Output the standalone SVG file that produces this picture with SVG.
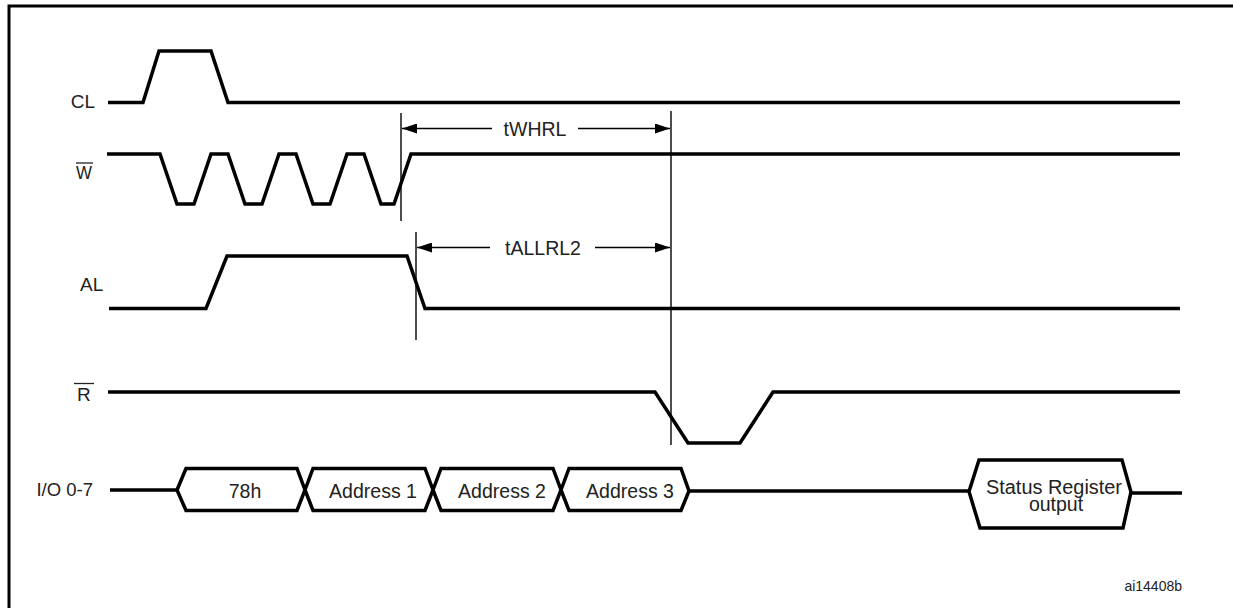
<svg xmlns="http://www.w3.org/2000/svg" width="1233" height="608" viewBox="0 0 1233 608">
<style>
.sig{fill:none;stroke:#000;stroke-width:3.5;stroke-linejoin:miter}
.thin{fill:none;stroke:#000;stroke-width:1.4}
.bus{fill:#fff;stroke:#000;stroke-width:3.5;stroke-linejoin:miter}
.lbl{font-family:"Liberation Sans",Arial,sans-serif;font-size:19px;fill:#222}
.txt{font-family:"Liberation Sans",Arial,sans-serif;font-size:19.5px;fill:#222;text-anchor:middle}
.small{font-family:"Liberation Sans",Arial,sans-serif;font-size:14px;fill:#222}
</style>
<defs>
<marker id="arr" markerWidth="15" markerHeight="10" refX="15" refY="5" orient="auto-start-reverse" markerUnits="userSpaceOnUse">
<path d="M0,0 L15,5 L0,10 Z" fill="#000"/>
</marker>
</defs>
<rect width="1233" height="608" fill="#fff"/>
<path d="M9,608 V6 H1233" fill="none" stroke="#000" stroke-width="3"/>

<g id="labels">
<text class="lbl" x="95" y="107.5" text-anchor="end">CL</text>
<text class="lbl" x="76" y="178.5" textLength="16" lengthAdjust="spacingAndGlyphs">W</text>
<line x1="76" y1="163" x2="93" y2="163" stroke="#222" stroke-width="1.3"/>
<text class="lbl" x="80" y="291">AL</text>
<text class="lbl" x="77" y="401">R</text>
<line x1="74" y1="383.5" x2="94" y2="383.5" stroke="#222" stroke-width="1.3"/>
<text class="lbl" x="93" y="496" text-anchor="end" style="font-size:18.5px">I/O 0-7</text>
</g>

<g id="CL">
<path class="sig" d="M108,102.5 H143 L159,51 H211 L228,102.5 H1180"/>
</g>
<g id="W">
<path class="sig" d="M107,154 H160 L177,204 H194 L211,154 H228 L245,204 H262 L279,154 H296 L313,204 H330 L347,154 H364 L381,204 H394 L411,154 H1180"/>
</g>
<g id="AL">
<path class="sig" d="M109,308.5 H206 L227,256 H407 L425,308.5 H1180"/>
</g>
<g id="R">
<path class="sig" d="M108,392 H655 L688,443 H740 L773,392 H1180"/>
</g>
<g id="IO">
<path class="sig" d="M110,490 H177"/>
<path class="sig" d="M689,491 H969"/>
<path class="sig" d="M1131,493 H1182"/>
</g>
<g id="bus78h">
<path class="bus" d="M177,490 L186,468.5 H297 L305,490 L297,510.5 H186 Z"/>
<text class="txt" x="245" y="497.5">78h</text>
</g>
<g id="busAddr1">
<path class="bus" d="M305,490 L313,468.5 H425 L433,490 L425,510.5 H313 Z"/>
<text class="txt" x="373" y="497.5">Address 1</text>
</g>
<g id="busAddr2">
<path class="bus" d="M433,490 L441,468.5 H553 L561,490 L553,510.5 H441 Z"/>
<text class="txt" x="502" y="497.5">Address 2</text>
</g>
<g id="busAddr3">
<path class="bus" d="M561,490 L569,468.5 H681 L689,491 L681,510.5 H569 Z"/>
<text class="txt" x="630" y="497.5">Address 3</text>
</g>
<g id="busStatus">
<path class="bus" d="M969,491.5 L979,460 H1122 L1131,492 L1123,528 H980 Z"/>
<text class="txt" x="1054" y="494" textLength="136" lengthAdjust="spacingAndGlyphs">Status Register</text>
<text class="txt" x="1056" y="511">output</text>
</g>

<g id="connectors">
<line class="thin" x1="401" y1="113" x2="401" y2="221"/>
<line class="thin" x1="416" y1="232" x2="416" y2="340"/>
<line class="thin" x1="671" y1="111" x2="671" y2="445"/>
<line class="thin" x1="492" y1="128.5" x2="402" y2="128.5" marker-end="url(#arr)"/>
<line class="thin" x1="578" y1="128.5" x2="670" y2="128.5" marker-end="url(#arr)"/>
<line class="thin" x1="490" y1="247.5" x2="417" y2="247.5" marker-end="url(#arr)"/>
<line class="thin" x1="595" y1="247.5" x2="670" y2="247.5" marker-end="url(#arr)"/>
</g>
<g id="timing-labels">
<text class="txt" x="535" y="136">tWHRL</text>
<text class="txt" x="543" y="255">tALLRL2</text>
</g>
<text class="small" x="1182" y="590.5" text-anchor="end">ai14408b</text>
</svg>
